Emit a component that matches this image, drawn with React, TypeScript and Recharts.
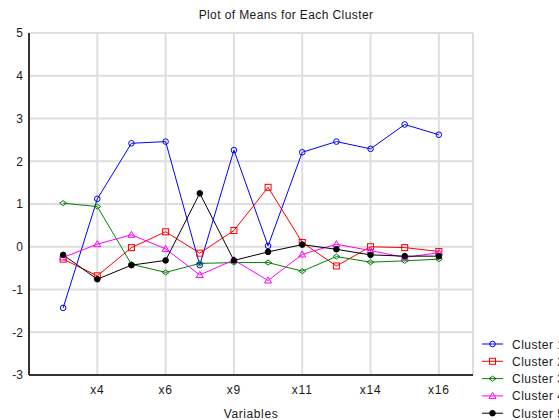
import { LineChart, Line, XAxis, YAxis, CartesianGrid, Legend } from "recharts";

/* ---------- Data ---------- */

const variables = ["x3", "x4", "x5", "x6", "x7", "x9", "x10", "x11", "x13", "x14", "x15", "x16"];
const labeledVariables = ["x4", "x6", "x9", "x11", "x14", "x16"];

const cluster1 = [-1.43, 1.12, 2.42, 2.46, -0.43, 2.26, 0.02, 2.21, 2.46, 2.29, 2.86, 2.62];
const cluster2 = [-0.29, -0.68, -0.02, 0.35, -0.15, 0.38, 1.39, 0.1, -0.45, 0.0, -0.02, -0.11];
const cluster3 = [1.02, 0.94, -0.41, -0.6, -0.39, -0.37, -0.37, -0.57, -0.23, -0.36, -0.33, -0.29];
const cluster4 = [-0.25, 0.06, 0.28, -0.05, -0.66, -0.31, -0.79, -0.18, 0.06, -0.09, -0.25, -0.14];
const cluster5 = [-0.19, -0.76, -0.43, -0.32, 1.25, -0.32, -0.12, 0.05, -0.06, -0.19, -0.22, -0.22];

const yTicks = [-3, -2, -1, 0, 1, 2, 3, 4, 5];

/* ---------- Series setup ---------- */

type Shape = "circle" | "square" | "diamond" | "triangle" | "dot";

type Series = {
  key: string;
  name: string;
  color: string;
  shape: Shape;
  values: number[];
};

const series: Series[] = [
  { key: "c1", name: "Cluster 1", color: "#0000ff", shape: "circle", values: cluster1 },
  { key: "c2", name: "Cluster 2", color: "#ff0000", shape: "square", values: cluster2 },
  { key: "c3", name: "Cluster 3", color: "#008000", shape: "diamond", values: cluster3 },
  { key: "c4", name: "Cluster 4", color: "#ff00ff", shape: "triangle", values: cluster4 },
  { key: "c5", name: "Cluster 5", color: "#000000", shape: "dot", values: cluster5 },
];

const rows = variables.map((name, i) => {
  const row: Record<string, number | string> = { idx: i + 1, name };
  series.forEach((s) => {
    row[s.key] = s.values[i];
  });
  return row;
});

// every variable gets a small tick, only some get a label + grid line
const xAll = variables.map((_, i) => i + 1);
const xLabeled = xAll.filter((i) => labeledVariables.includes(variables[i - 1]));
const yMinor = Array.from({ length: 33 }, (_, i) => -3 + i * 0.25);

const FONT = "'Liberation Sans', Arial, sans-serif";
const FRAME = "#333333";
const TEXT = "#1a1a1a";

/* ---------- Markers ---------- */

function Marker({ shape, color, cx, cy }: { shape: Shape; color: string; cx: number; cy: number }) {
  switch (shape) {
    case "circle":
      return <circle cx={cx} cy={cy} r={2.8} fill="none" stroke={color} strokeWidth={1} />;
    case "square":
      return <rect x={cx - 3} y={cy - 3} width={6} height={6} fill="none" stroke={color} strokeWidth={1} />;
    case "diamond":
      return (
        <polygon
          points={`${cx - 3.5},${cy} ${cx},${cy - 2.5} ${cx + 3.5},${cy} ${cx},${cy + 2.5}`}
          fill="none"
          stroke={color}
          strokeWidth={1}
        />
      );
    case "triangle":
      return (
        <polygon
          points={`${cx},${cy - 3.5} ${cx + 3.5},${cy + 2.5} ${cx - 3.5},${cy + 2.5}`}
          fill="none"
          stroke={color}
          strokeWidth={1}
        />
      );
    default:
      return <circle cx={cx} cy={cy} r={2.8} fill={color} stroke={color} />;
  }
}

const renderLegend = () => (
  <svg width={90} height={90} style={{ display: "block", overflow: "visible" }}>
    {series.map((s, i) => {
      const y = 9 + i * 17.3;
      return (
        <g key={s.key}>
          <line x1={6} x2={27} y1={y} y2={y} stroke={s.color} strokeWidth={1} />
          <Marker shape={s.shape} color={s.color} cx={16.5} cy={y} />
          <text x={36} y={y + 4.5} fontSize={12} fontFamily={FONT} fill={TEXT} letterSpacing={0.5}>
            {s.name}
          </text>
        </g>
      );
    })}
  </svg>
);

/* ---------- Component ---------- */

export default function App() {
  return (
    <div
      style={{
        position: "absolute",
        left: 0,
        top: 0,
        width: 559,
        height: 420,
        overflow: "hidden",
        background: "#fff",
        fontFamily: FONT,
      }}
    >
      <div
        style={{
          position: "absolute",
          top: 8,
          left: 0,
          width: 572,
          textAlign: "center",
          fontSize: 12,
          letterSpacing: 0.4,
          color: TEXT,
          lineHeight: "14px",
        }}
      >
        Plot of Means for Each Cluster
      </div>
      <LineChart
        width={559}
        height={420}
        data={rows}
        margin={{ top: 33, right: 86, bottom: 0, left: 0 }}
        style={{ fontFamily: FONT }}
      >
        <CartesianGrid xAxisId="x" yAxisId="y" stroke="#dedede" strokeWidth={2} />

        {/* bottom: labels and frame */}
        <XAxis
          xAxisId="x"
          dataKey="idx"
          type="number"
          domain={[0, 13]}
          ticks={xLabeled}
          tickFormatter={(v: number) => variables[v - 1]}
          height={45}
          tickLine={false}
          tickSize={0}
          tickMargin={10}
          tick={{ fontSize: 12, fill: TEXT, letterSpacing: 0.8 }}
          axisLine={{ stroke: FRAME, strokeWidth: 2 }}
          label={{ value: "Variables", position: "insideBottom", offset: 2, fontSize: 12, fill: TEXT, letterSpacing: 0.6 }}
        />
        <XAxis
          xAxisId="xb"
          type="number"
          domain={[0, 13]}
          ticks={xAll}
          height={0}
          mirror
          tick={false}
          tickSize={3}
          axisLine={false}
          tickLine={{ stroke: FRAME }}
        />
        {/* top frame */}
        <XAxis
          xAxisId="xt"
          orientation="top"
          type="number"
          domain={[0, 13]}
          ticks={xAll}
          height={0}
          mirror
          tick={false}
          tickSize={3}
          axisLine={{ stroke: FRAME, strokeWidth: 2 }}
          tickLine={{ stroke: FRAME }}
        />

        {/* left: labels, major and minor ticks */}
        <YAxis
          yAxisId="y"
          type="number"
          domain={[-3, 5]}
          ticks={yTicks}
          width={29}
          tickLine={false}
          tickSize={0}
          tickMargin={6}
          tick={{ fontSize: 12, fill: TEXT }}
          axisLine={{ stroke: FRAME, strokeWidth: 2 }}
        />
        <YAxis
          yAxisId="yl"
          type="number"
          domain={[-3, 5]}
          ticks={yTicks}
          width={0}
          mirror
          tick={false}
          tickSize={4}
          axisLine={false}
          tickLine={{ stroke: FRAME }}
        />
        <YAxis
          yAxisId="ylm"
          type="number"
          domain={[-3, 5]}
          ticks={yMinor}
          width={0}
          mirror
          tick={false}
          tickSize={2}
          axisLine={false}
          tickLine={{ stroke: FRAME }}
        />
        {/* right frame */}
        <YAxis
          yAxisId="yr"
          orientation="right"
          type="number"
          domain={[-3, 5]}
          ticks={yTicks}
          width={0}
          mirror
          tick={false}
          tickSize={4}
          axisLine={{ stroke: FRAME, strokeWidth: 2 }}
          tickLine={{ stroke: FRAME }}
        />
        <YAxis
          yAxisId="yrm"
          orientation="right"
          type="number"
          domain={[-3, 5]}
          ticks={yMinor}
          width={0}
          mirror
          tick={false}
          tickSize={2}
          axisLine={false}
          tickLine={{ stroke: FRAME }}
        />

        {series.map((s) => (
          <Line
            key={s.key}
            xAxisId="x"
            yAxisId="y"
            type="linear"
            dataKey={s.key}
            name={s.name}
            stroke={s.color}
            strokeWidth={1}
            isAnimationActive={false}
            dot={(p: any) => (
              <Marker key={`${s.key}-${p.index}`} shape={s.shape} color={s.color} cx={p.cx} cy={p.cy} />
            )}
            activeDot={false}
          />
        ))}

        <Legend
          layout="vertical"
          align="center"
          verticalAlign="middle"
          content={renderLegend}
          wrapperStyle={{ left: 476, top: 335, width: 90, height: 90 }}
        />
      </LineChart>
    </div>
  );
}
